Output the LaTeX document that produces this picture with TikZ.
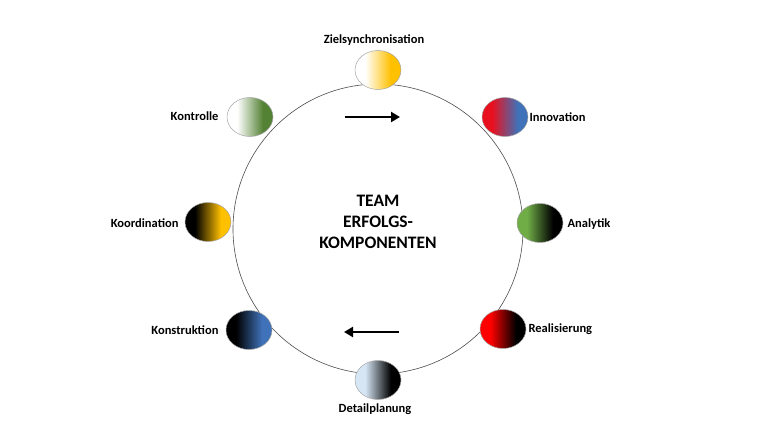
\documentclass[tikz,border=0pt]{standalone}
\usepackage{fontspec}
\setmainfont{Carlito}
\usetikzlibrary{arrows.meta,shapes.geometric}
\pgfdeclarehorizontalshading[colA,colB]{sharp}{100bp}{color(0bp)=(colA); color(36bp)=(colA); color(64bp)=(colB); color(100bp)=(colB)}
\tikzset{
  ball/.style args={#1/#2}{ellipse, minimum width=46pt, minimum height=39pt, draw=gray!70, line width=0.5pt, /utils/exec={\colorlet{colA}{#1}\colorlet{colB}{#2}}, shading=sharp},
  lab/.style={font=\bfseries\fontsize{12.5}{14}\selectfont},
  arr/.style={line width=2.6pt, -{Triangle[length=9pt,width=10pt]}}
}
\definecolor{yel}{HTML}{FFC000}
\definecolor{grn}{HTML}{548235}
\definecolor{lgrn}{HTML}{70AD47}
\definecolor{rd}{HTML}{E8101E}
\definecolor{bl}{HTML}{3F72B8}
\definecolor{lbl}{HTML}{D6E6F5}
\begin{document}
\begin{tikzpicture}[x=1pt,y=-1pt]
\useasboundingbox (0,0) rectangle (777,436);
\node[circle, draw=black!70, line width=0.6pt, minimum size=290pt, inner sep=0pt] (c) at (378,229) {};
\node[align=center, font=\bfseries\fontsize{17.5}{21}\selectfont] (t) at (378,222) {TEAM\\ERFOLGS-\\KOMPONENTEN};
\node[ball=white/yel] (z) at (378,70) {};
\node[ball=rd/bl] (i) at (505,117) {};
\node[ball=lgrn/black] (a) at (540,223) {};
\node[ball=red/black] (r) at (503,329) {};
\node[ball=lbl/black] (d) at (378,380) {};
\node[ball=black/bl] (k1) at (249,330) {};
\node[ball=black/yel] (k2) at (208,222) {};
\node[ball=white/grn] (k3) at (250,117) {};
\node[lab] (lz) at (374,40) {Zielsynchronisation};
\node[lab, anchor=west] (li) at (526,117) {Innovation};
\node[lab, anchor=west] (la) at (564,224) {Analytik};
\node[lab, anchor=west] (lr) at (525,329) {Realisierung};
\node[lab] (ld) at (375,409) {Detailplanung};
\node[lab, anchor=east] (lk1) at (222,330) {Konstruktion};
\node[lab, anchor=east] (lk2) at (182,223) {Koordination};
\node[lab, anchor=east] (lk3) at (222,116) {Kontrolle};
\coordinate (a1) at (345,117); \coordinate (a2) at (400,117);
\coordinate (b1) at (399,332); \coordinate (b2) at (344,332);
\draw[arr] (a1) -- (a2);
\draw[arr] (b1) -- (b2);
\end{tikzpicture}
\end{document}
